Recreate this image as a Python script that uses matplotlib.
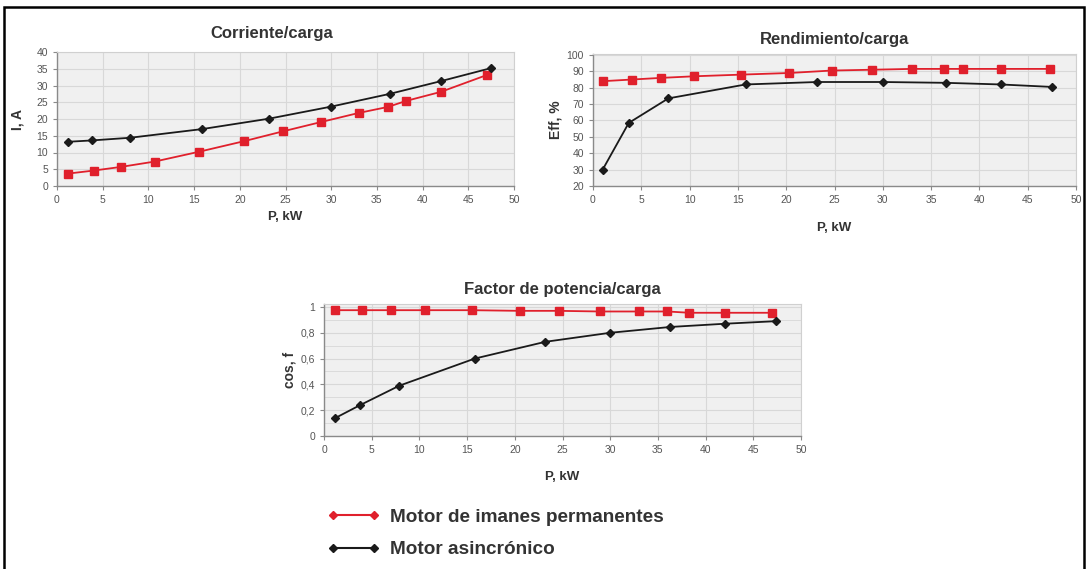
import numpy as np
import matplotlib
matplotlib.use('Agg')
import matplotlib.pyplot as plt
from matplotlib.lines import Line2D
from matplotlib.patches import Rectangle

plt.rcParams['font.family'] = ['Liberation Sans', 'DejaVu Sans']

# Corriente/carga
cur_pm_x = [1.2, 4.0, 7.0, 10.7, 15.5, 20.5, 24.7, 28.9, 33.0, 36.2, 38.2, 42.0, 47.0]
cur_pm_y = [3.7, 4.6, 5.7, 7.3, 10.2, 13.4, 16.3, 19.1, 21.8, 23.6, 25.4, 28.1, 33.1]
cur_as_x = [1.2, 3.8, 8.0, 15.9, 23.2, 30.0, 36.4, 42.0, 47.5]
cur_as_y = [13.2, 13.6, 14.4, 17.0, 20.1, 23.7, 27.5, 31.3, 35.2]

# Rendimiento/carga
eff_pm_x = [1.0, 4.0, 7.0, 10.5, 15.3, 20.3, 24.7, 28.9, 33.0, 36.3, 38.3, 42.2, 47.3]
eff_pm_y = [84.0, 85.0, 86.0, 87.0, 88.0, 89.0, 90.5, 91.0, 91.5, 91.5, 91.5, 91.5, 91.5]
eff_as_x = [1.0, 3.7, 7.8, 15.8, 23.2, 30.0, 36.5, 42.2, 47.5]
eff_as_y = [30.0, 58.5, 73.5, 82.0, 83.5, 83.5, 83.0, 82.0, 80.5]

# Factor de potencia/carga
pf_pm_x = [1.2, 4.0, 7.0, 10.6, 15.5, 20.5, 24.6, 28.9, 33.0, 36.0, 38.3, 42.0, 47.0]
pf_pm_y = [0.975, 0.975, 0.975, 0.975, 0.975, 0.97, 0.97, 0.965, 0.965, 0.965, 0.955, 0.955, 0.955]
pf_as_x = [1.2, 3.8, 7.9, 15.8, 23.2, 30.0, 36.3, 42.0, 47.4]
pf_as_y = [0.14, 0.24, 0.39, 0.60, 0.73, 0.80, 0.845, 0.87, 0.89]

label_pm = 'Motor de imanes permanentes'
label_as = 'Motor asincrónico'

RED = '#e0202c'
BLACK = '#1a1a1a'
BG = '#f0f0f0'
GRID = '#d8d8d8'
TXT = '#333333'

W, H = 1088, 569
fig = plt.figure(figsize=(W / 100, H / 100), dpi=100)
fig.patch.set_facecolor('white')


def px_axes(x0, x1, y0, y1):
    # axes box given in pixel coords of the picture (y from top)
    return fig.add_axes([x0 / W, 1 - y1 / H, (x1 - x0) / W, (y1 - y0) / H])


def style_axes(ax, title, ylabel, ylim, yticks, yticklabels, title_pad, xlab_px, ylab_px, title_x=0.5):
    ax.set_facecolor(BG)
    ax.set_xlim(0, 50)
    ax.set_xticks(range(0, 51, 5))
    ax.set_ylim(*ylim)
    ax.set_yticks(yticks)
    ax.set_yticklabels(yticklabels)
    ax.grid(True, color=GRID, lw=0.8)
    ax.set_axisbelow(True)
    for side in ['top', 'right']:
        ax.spines[side].set_color('#d0d0d0')
        ax.spines[side].set_linewidth(0.8)
    for side in ['left', 'bottom']:
        ax.spines[side].set_color('#8a8a8a')
        ax.spines[side].set_linewidth(1.0)
    ax.tick_params(labelsize=7.5, colors='#8a8a8a', labelcolor='#555555', length=3, width=0.8)
    ax.set_title(title, fontsize=12, fontweight='bold', color=TXT, pad=title_pad, x=title_x)
    ax.set_xlabel('P, kW', fontsize=9.5, fontweight='bold', color=TXT)
    ax.set_ylabel(ylabel, fontsize=10, fontweight='bold', color=TXT)
    bb = ax.get_position()
    wpx, hpx = bb.width * W, bb.height * H
    ax.xaxis.set_label_coords(0.5, -xlab_px / hpx)
    ax.yaxis.set_label_coords(-ylab_px / wpx, 0.5)


def draw_series(ax, pm_x, pm_y, as_x, as_y):
    ax.plot(pm_x, pm_y, color=RED, lw=1.3, marker='s', ms=5.5,
            mfc=RED, mec=RED, zorder=3)
    ax.plot(as_x, as_y, color=BLACK, lw=1.3, marker='D', ms=4,
            mfc=BLACK, mec=BLACK, zorder=4)


ax1 = px_axes(57, 514, 52, 186)
draw_series(ax1, cur_pm_x, cur_pm_y, cur_as_x, cur_as_y)
style_axes(ax1, 'Corriente/carga', 'I, A', (0, 40), range(0, 41, 5),
           [str(v) for v in range(0, 41, 5)], 10, 25, 32, title_x=0.47)

ax2 = px_axes(593, 1076, 54, 186)
draw_series(ax2, eff_pm_x, eff_pm_y, eff_as_x, eff_as_y)
style_axes(ax2, 'Rendimiento/carga', 'Eff, %', (20, 100.6), range(20, 101, 10),
           [str(v) for v in range(20, 101, 10)], 7, 36, 30)

ax3 = px_axes(324, 801, 304, 436)
draw_series(ax3, pf_pm_x, pf_pm_y, pf_as_x, pf_as_y)
pf_ticks = [0, 0.2, 0.4, 0.6, 0.8, 1.0]
style_axes(ax3, 'Factor de potencia/carga', 'cos, f', (0, 1.023), pf_ticks,
           ['0', '0,2', '0,4', '0,6', '0,8', '1'], 7, 35, 28)
ax3.set_yticks(np.arange(0, 1.01, 0.1), minor=True)
ax3.grid(True, which='minor', axis='y', color=GRID, lw=0.6)
ax3.tick_params(which='minor', length=0)

# legend below the third chart
handles = [
    Line2D([], [], color=RED, lw=1.5, marker='D', ms=4.5, mfc=RED, mec=RED),
    Line2D([], [], color=BLACK, lw=1.5, marker='D', ms=4.5, mfc=BLACK, mec=BLACK),
]
leg = fig.legend(handles, [label_pm, label_as], loc='upper left',
                 bbox_to_anchor=(0.285, 0.136), frameon=False,
                 numpoints=2, handlelength=2.75, handletextpad=0.55,
                 labelspacing=0.78, prop={'size': 13.7, 'weight': 'bold'})
for t in leg.get_texts():
    t.set_color(TXT)

# outer frame of the original screenshot
fig.add_artist(Rectangle((4 / W, -0.01), 1080 / W, 1 - 7 / H + 0.01,
                         transform=fig.transFigure, fill=False,
                         edgecolor='black', lw=1.8))

fig.savefig('out.png', dpi=100)
